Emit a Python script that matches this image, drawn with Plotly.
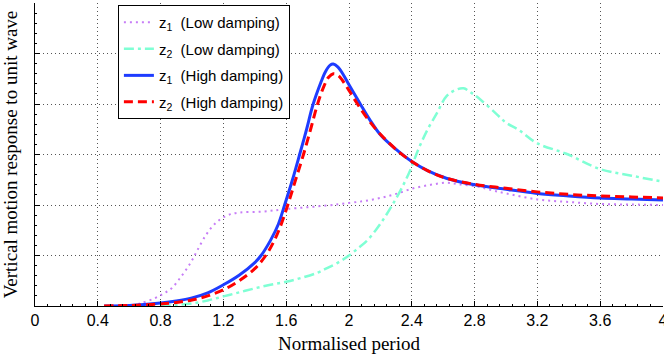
import plotly.graph_objects as go

# z1 (Low damping)
x_z1_low = [0.62, 0.67, 0.76, 0.82, 0.87, 0.93, 0.99, 1.03, 1.09, 1.15, 1.22, 1.3, 1.45, 1.6, 1.86, 2.0, 2.1, 2.2, 2.3, 2.41, 2.52, 2.62, 2.7, 2.81, 2.9, 3.0, 3.2, 3.4, 3.6, 3.8, 4.0]
y_z1_low = [0, 0.05, 0.15, 0.25, 0.35, 0.58, 0.85, 1.08, 1.41, 1.64, 1.79, 1.85, 1.87, 1.92, 1.99, 2.04, 2.08, 2.14, 2.22, 2.33, 2.40, 2.44, 2.41, 2.37, 2.30, 2.23, 2.11, 2.06, 2.02, 2.01, 2.0]

# z2 (Low damping)
x_z2_low = [0.8, 0.9, 1.0, 1.1, 1.2, 1.3, 1.4, 1.5, 1.6, 1.7, 1.8, 1.86, 1.93, 2.0, 2.06, 2.11, 2.17, 2.22, 2.27, 2.33, 2.39, 2.44, 2.5, 2.56, 2.62, 2.68, 2.73, 2.78, 2.84, 2.94, 3.0, 3.08, 3.2, 3.38, 3.6, 3.8, 4.0]
y_z2_low = [0, 0.02, 0.05, 0.11, 0.19, 0.27, 0.35, 0.42, 0.48, 0.56, 0.66, 0.75, 0.86, 1.0, 1.15, 1.28, 1.5, 1.72, 1.97, 2.30, 2.69, 3.09, 3.49, 3.82, 4.15, 4.28, 4.31, 4.22, 4.08, 3.8, 3.63, 3.49, 3.22, 3.02, 2.71, 2.58, 2.46]

# z1 (High damping)
x_z1_high = [0.44, 0.6, 0.8, 0.9, 1.0, 1.1, 1.2, 1.3, 1.4, 1.44, 1.5, 1.55, 1.59, 1.64, 1.69, 1.73, 1.77, 1.82, 1.85, 1.88, 1.90, 1.93, 1.96, 2.0, 2.07, 2.13, 2.2, 2.3, 2.4, 2.5, 2.62, 2.8, 3.0, 3.2, 3.4, 3.6, 3.8, 4.0]
y_z1_high = [0, 0.01, 0.06, 0.1, 0.16, 0.26, 0.42, 0.61, 0.86, 1.0, 1.3, 1.62, 2.0, 2.5, 3.05, 3.5, 3.98, 4.42, 4.64, 4.77, 4.79, 4.73, 4.6, 4.38, 4.01, 3.7, 3.39, 3.1, 2.86, 2.68, 2.53, 2.40, 2.31, 2.23, 2.18, 2.14, 2.12, 2.10]

# z2 (High damping)
x_z2_high = [0.44, 0.6, 0.8, 0.9, 1.0, 1.1, 1.2, 1.3, 1.4, 1.47, 1.52, 1.56, 1.61, 1.66, 1.71, 1.76, 1.80, 1.84, 1.87, 1.90, 1.93, 1.96, 2.0, 2.05, 2.12, 2.2, 2.3, 2.4, 2.5, 2.62, 2.8, 3.0, 3.2, 3.4, 3.6, 3.8, 4.0]
y_z2_high = [0, 0.01, 0.04, 0.07, 0.12, 0.2, 0.32, 0.5, 0.74, 1.0, 1.27, 1.55, 2.0, 2.5, 3.0, 3.55, 4.0, 4.35, 4.53, 4.6, 4.57, 4.46, 4.27, 4.02, 3.7, 3.4, 3.1, 2.86, 2.68, 2.53, 2.41, 2.33, 2.26, 2.21, 2.18, 2.16, 2.14]

x_ticks = [0, 0.4, 0.8, 1.2, 1.6, 2, 2.4, 2.8, 3.2, 3.6, 4]
x_tick_labels = ["0", "0.4", "0.8", "1.2", "1.6", "2", "2.4", "2.8", "3.2", "3.6", "4"]

names = ["z<sub>1</sub>\u00a0\u00a0(Low damping)", "z<sub>2</sub>\u00a0\u00a0(Low damping)",
         "z<sub>1</sub>\u00a0\u00a0(High damping)", "z<sub>2</sub>\u00a0\u00a0(High damping)"]

fig = go.Figure()
fig.add_trace(go.Scatter(x=x_z1_low, y=y_z1_low, mode="lines", name=names[0], legendgroup="a",
                         line=dict(color="#C77DF7", width=2, dash="2px,4px", shape="spline")))
fig.add_trace(go.Scatter(x=x_z2_low, y=y_z2_low, mode="lines", name=names[1], legendgroup="b",
                         line=dict(color="#7FFFD4", width=2.5, dash="10px,4px,3px,4px", shape="spline")))
fig.add_trace(go.Scatter(x=x_z1_high, y=y_z1_high, mode="lines", name=names[2], legendgroup="c",
                         line=dict(color="#1E3CFF", width=3, shape="spline")))
fig.add_trace(go.Scatter(x=x_z2_high, y=y_z2_high, mode="lines", name=names[3], legendgroup="d",
                         line=dict(color="#FF0000", width=3, dash="9px,5px", shape="spline")))

fig.update_layout(
    width=664, height=354,
    margin=dict(l=35, r=1, t=3, b=48),
    plot_bgcolor="white", paper_bgcolor="white",
    showlegend=True,
    legend=dict(x=0.132, y=0.993, xanchor="left", yanchor="top",
                bgcolor="white", bordercolor="black", borderwidth=1,
                font=dict(family="Liberation Sans, Arial", size=15, color="black"),
                tracegroupgap=4),
    xaxis=dict(range=[0, 4], tickvals=x_ticks, ticktext=x_tick_labels,
               automargin=False, ticklabeloverflow="allow",
               showline=True, linecolor="black", linewidth=1,
               ticks="inside", ticklen=5, tickcolor="black",
               showgrid=True, gridcolor="#555555", griddash="1px,3px", gridwidth=1,
               zeroline=False,
               minor=dict(ticks="inside", ticklen=2, dtick=0.08, tickcolor="black", showgrid=False),
               tickfont=dict(family="Liberation Sans, Arial", size=16, color="black"),
               title=dict(text="Normalised period",
                          font=dict(family="Liberation Serif, Times New Roman", size=19, color="black"))),
    yaxis=dict(range=[0, 6], dtick=1, showticklabels=False,
               automargin=False,
               showline=True, linecolor="black", linewidth=1,
               ticks="inside", ticklen=5, tickcolor="black",
               showgrid=True, gridcolor="#555555", griddash="1px,3px", gridwidth=1,
               zeroline=False,
               minor=dict(ticks="inside", ticklen=2, dtick=0.2, tickcolor="black", showgrid=False),
               title=dict(text="Vertical motion response to unit wave",
                          font=dict(family="Liberation Serif, Times New Roman", size=19, color="black"))),
)

fig.write_html("out.html", config={"displayModeBar": False},
               post_script="document.body.style.margin='0';")
